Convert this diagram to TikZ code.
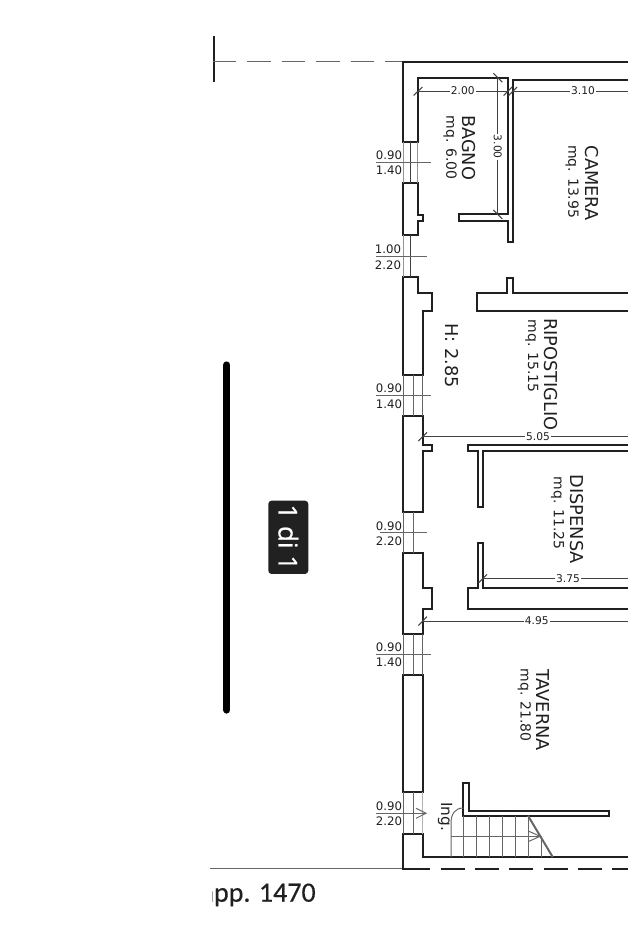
\documentclass[tikz,border=0pt]{standalone}
\usepackage{fontspec}
\setmainfont{DejaVu Sans}
\newfontfamily\capfont[FakeBold=0.3]{Carlito}
\newfontfamily\badgefont[FakeBold=0.6]{Open Sans}
\definecolor{wallink}{HTML}{202020}
\definecolor{thinink}{HTML}{666666}
\tikzset{
  wall/.style={draw=wallink,line width=1.45pt,line join=miter},
  thin line/.style={draw=thinink,line width=0.75pt},
  dim line/.style={draw=wallink!85,line width=0.6pt},
  room/.style={rotate=-90,inner sep=0.75pt,text=wallink,font=\fontsize{13.3pt}{15pt}\selectfont},
  area/.style={rotate=-90,inner sep=0.75pt,text=wallink,font=\fontsize{10.5pt}{12pt}\selectfont},
  dimtext/.style={fill=white,inner sep=0.75pt,text=wallink,font=\fontsize{8pt}{9pt}\selectfont},
  opening/.style={inner sep=0pt,text=wallink,font=\fontsize{8.8pt}{10pt}\selectfont},
}
\begin{document}
\begin{tikzpicture}[x=0.75pt,y=0.75pt,yscale=-1]
\useasboundingbox (0,0) rectangle (628,942);

%Shape: Sheet marker and dashed boundary
\draw [draw=wallink,line width=1.2pt] (214,36) -- (214,82);
\draw [thin line,dash pattern=on 17.6pt off 8.2pt] (213,61.6) -- (403,61.6);
\draw [thin line] (210,868.6) -- (403,868.6);

%Shape: Page slider
\draw [line width=5.4pt,line cap=round] (226.7,365) -- (226.7,710);

%Shape: Outer wall, top and left
\draw [wall] (628,61.7) -- (403.3,61.7) -- (403.3,141.7) -- (417.7,141.7) -- (417.7,77.7) -- (507.7,77.7) -- (507.7,214.3) -- (459,214.3) -- (459,220.7) -- (507.7,220.7) -- (507.7,241.7) -- (512.7,241.7) -- (512.7,80) -- (628,80) ;
%Shape: Pier 1
\draw [wall] (403.3,183.3) -- (417.7,183.3) -- (417.7,215) -- (422.7,215) -- (422.7,220.7) -- (417.7,220.7) -- (417.7,235.3) -- (403.3,235.3) -- cycle ;
%Shape: Pier 2
\draw [wall] (403.3,276.7) -- (417.7,276.7) -- (417.7,292.7) -- (432,292.7) -- (432,311) -- (422.7,311) -- (422.7,375) -- (403.3,375) -- cycle ;
%Shape: Pier 3
\draw [wall] (403.3,416) -- (422.7,416) -- (422.7,445) -- (432,445) -- (432,450.7) -- (422.7,450.7) -- (422.7,512.3) -- (403.3,512.3) -- cycle ;
%Shape: Pier 4
\draw [wall] (403.3,553.3) -- (422.7,553.3) -- (422.7,587.7) -- (432,587.7) -- (432,608.7) -- (422.7,608.7) -- (422.7,634) -- (403.3,634) -- cycle ;
%Shape: Pier 5
\draw [wall] (403.3,675) -- (422.7,675) -- (422.7,792.3) -- (403.3,792.3) -- cycle ;
%Shape: Corner and bottom wall
\draw [wall] (628,857) -- (422.7,857) -- (422.7,833.7) -- (403.3,833.7) -- (403.3,868.7) -- (430,868.7) ;
\draw [wall,dash pattern=on 18pt off 7.7pt] (440.7,868.7) -- (628,868.7);

%Shape: Ripostiglio wall
\draw [wall] (628,292.7) -- (512.7,292.7) -- (512.7,278.3) -- (507.3,278.3) -- (507.3,292.7) -- (477.3,292.7) -- (477.3,311) -- (628,311) ;
%Shape: Dispensa wall, top
\draw [wall] (628,445) -- (468.3,445) -- (468.3,450.7) -- (477.7,450.7) -- (477.7,506.7) -- (482.7,506.7) -- (482.7,450.7) -- (628,450.7) ;
%Shape: Dispensa wall, bottom
\draw [wall] (628,587.7) -- (482.7,587.7) -- (482.7,543.3) -- (477.7,543.3) -- (477.7,587.7) -- (468.3,587.7) -- (468.3,608.7) -- (628,608.7) ;
%Shape: Stair wall
\draw [wall] (463.3,783) -- (468.7,783) -- (468.7,810.7) -- (609,810.7) -- (609,815.7) -- (463.3,815.7) -- cycle ;

%Shape: Window lines
\draw [dim line] (410.7,141.7) -- (410.7,183.3) (410.7,235.3) -- (410.7,276.7);
\draw [thin line,draw=thinink!70] (417.7,141.7) -- (417.7,183.3) (403.3,141.7) -- (403.3,183.3) (403.3,235.3) -- (403.3,276.7);
\draw [thin line] (413.3,375) -- (413.3,416) (422.7,375) -- (422.7,416) (403.3,375) -- (403.3,416);
\draw [thin line] (413.3,512.3) -- (413.3,553.3) (403.3,512.3) -- (403.3,553.3);
\draw [thin line] (413.3,634) -- (413.3,675) (422.7,634) -- (422.7,675) (403.3,634) -- (403.3,675);
\draw [thin line] (413.3,792.3) -- (413.3,833.7) (403.3,792.3) -- (403.3,833.7);
\draw [thin line,draw=thinink!50] (422.7,792.3) -- (422.7,833.7);

%Shape: Opening dimension lines
\draw [thin line] (376,162.3) -- (431,162.3);
\draw [thin line] (376,256) -- (427,256);
\draw [thin line] (376,395.7) -- (431,395.7);
\draw [thin line] (380,532.7) -- (427,532.7);
\draw [thin line] (376,654.3) -- (431,654.3);
\draw [thin line] (376,813.3) -- (426,813.3);
\draw [thin line] (416,808.3) -- (426,813.3) -- (416,818.3);

%Shape: Room dimension lines
\draw [dim line] (417.7,91) -- (507.7,91);
\draw [dim line] (512.7,91) -- (628,91);
\draw [dim line] (497.7,77.7) -- (497.7,214.3);
\draw [dim line] (422.7,436.7) -- (628,436.7);
\draw [dim line] (482.7,578.7) -- (628,578.7);
\draw [dim line] (422.7,621) -- (628,621);

%Shape: Ticks
\draw [dim line,line width=0.8pt] (413.7,95.5) -- (422.3,87) (503.5,95.5) -- (512,87) (508.5,95.5) -- (517,87);
\draw [dim line,line width=0.8pt] (493.3,73.3) -- (502.3,82.3) (493.3,210) -- (502.3,219);
\draw [dim line,line width=0.8pt] (418.3,441) -- (427,432.3) (478.3,583) -- (487,574.3) (418.3,625.5) -- (427,616.7);

%Shape: Stairs
\draw [thin line] (451,857) -- (451,823.3) .. controls (451,814) and (455,808) .. (463.3,808);
\draw [thin line] (463.7,815.7) -- (463.7,857);
\draw [thin line] (476.7,815.7) -- (476.7,857);
\draw [thin line] (489.3,815.7) -- (489.3,857);
\draw [thin line] (502.3,815.7) -- (502.3,857);
\draw [thin line] (515.3,815.7) -- (515.3,857);
\draw [thin line] (528.3,815.7) -- (528.3,857);
\draw [thin line] (541,836.3) -- (541,857);
\draw [thin line] (451,836.3) -- (541,836.3);
\draw [thin line] (529,831.3) -- (540,836.3) -- (529,841.3);
\draw [draw=thinink,line width=1.5pt] (528,815.7) -- (552.7,857);

% Text Node
\draw (469.3,147.7) node (bagno) [room] {BAGNO};
\draw (450,147.7) node (bagnoarea) [area] {mq. 6.00};
\draw (591.7,183) node (camera) [room] {CAMERA};
\draw (572,181.7) node (cameraarea) [area] {mq. 13.95};
\draw (451.7,355.7) node (height) [room] {H: 2.85};
\draw (551,374.3) node (ripostiglio) [room] {RIPOSTIGLIO};
\draw (531.7,356) node (ripostiglioarea) [area] {mq. 15.15};
\draw (576.7,519.3) node (dispensa) [room] {DISPENSA};
\draw (557.7,513.3) node (dispensaarea) [area] {mq. 11.25};
\draw (543.3,710) node (taverna) [room] {TAVERNA};
\draw (524.3,705) node (tavernaarea) [area] {mq. 21.80};
\draw (445,816.7) node (ingresso) [room,font=\fontsize{11.5pt}{13pt}\selectfont] {Ing.};

% Text Node
\draw (462.7,91) node (dimbagno) [dimtext] {2.00};
\draw (583,91) node (dimcamera) [dimtext] {3.10};
\draw (497.7,146.7) node (dimbagnoh) [dimtext,rotate=-90] {3.00};
\draw (538,436.7) node (dimrip) [dimtext] {5.05};
\draw (568,578.7) node (dimdisp) [dimtext] {3.75};
\draw (536.7,621) node (dimtav) [dimtext] {4.95};

% Text Node
\draw (389,155) node (opa) [opening] {0.90};
\draw (389,170.7) node (opb) [opening] {1.40};
\draw (388,249.3) node (opc) [opening] {1.00};
\draw (388,265) node (opd) [opening] {2.20};
\draw (389,388.3) node (ope) [opening] {0.90};
\draw (389,404) node (opf) [opening] {1.40};
\draw (389,526) node (opg) [opening] {0.90};
\draw (389,541) node (oph) [opening] {2.20};
\draw (389,647.7) node (opi) [opening] {0.90};
\draw (389,662.7) node (opj) [opening] {1.40};
\draw (389,806) node (opk) [opening] {0.90};
\draw (389,821) node (opl) [opening] {2.20};

%Shape: Page badge
\draw (288.3,537.3) node (badge) [fill=black!87,rounded corners=2.5pt,minimum width=55pt,minimum height=30pt,rotate=-90,text=white,inner sep=0pt,font=\badgefont\fontsize{19.5pt}{21pt}\selectfont] {1 di 1};

% Text Node
\begin{scope}
\clip (212,870) rectangle (330,915);
\draw (316,901.7) node (caption) [anchor=base east,inner sep=0pt,text=wallink,font=\capfont\fontsize{21pt}{24pt}\selectfont] {app. 1470};
\end{scope}
\end{tikzpicture}
\end{document}
